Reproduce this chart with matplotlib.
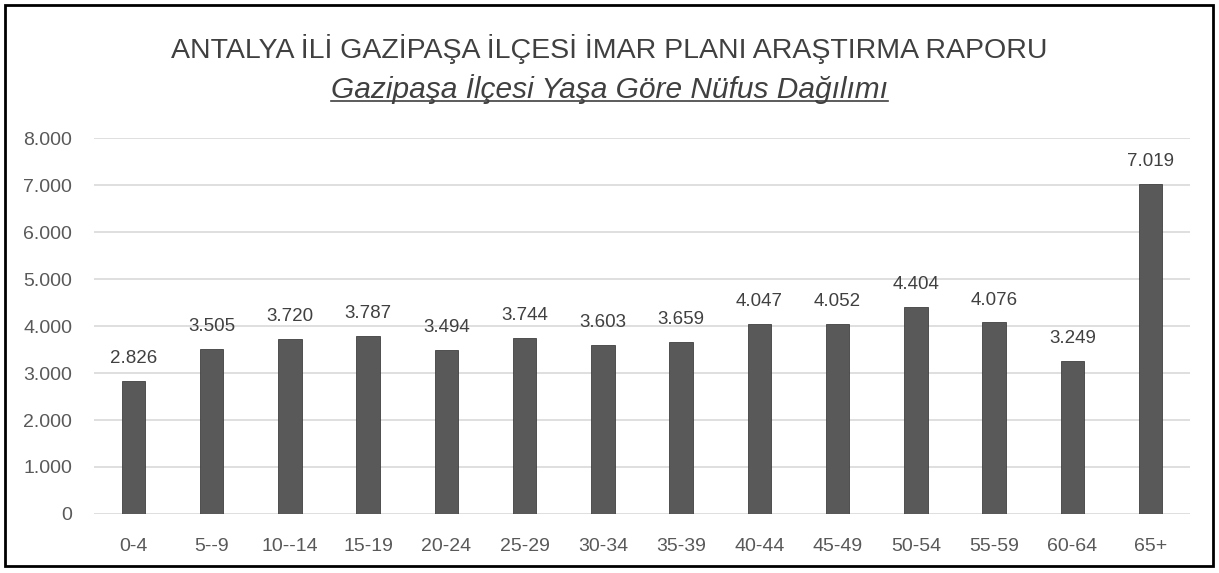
import matplotlib
matplotlib.use("Agg")
import matplotlib.pyplot as plt
from matplotlib.patches import Rectangle
from matplotlib.lines import Line2D
from matplotlib.ticker import FuncFormatter

# age groups and population
yas_gruplari = ["0-4", "5--9", "10--14", "15-19", "20-24", "25-29", "30-34",
                "35-39", "40-44", "45-49", "50-54", "55-59", "60-64", "65+"]
nufus = [2826, 3505, 3720, 3787, 3494, 3744, 3603, 3659, 4047, 4052, 4404, 4076, 3249, 7019]
y_ticks = [0, 1000, 2000, 3000, 4000, 5000, 6000, 7000, 8000]

def noktali(v, pos=None):
    return "{:,}".format(int(v)).replace(",", ".")

plt.rcParams['font.family'] = ['Liberation Sans', 'DejaVu Sans']

fig = plt.figure(figsize=(12.19, 5.73), dpi=100)
ax = fig.add_axes([0.0774, 0.103, 0.8986, 0.656])

x = list(range(len(yas_gruplari)))
ax.bar(x, nufus, width=0.3, color="#595959", edgecolor="#404040", linewidth=0.6, zorder=3)
for xi, v in zip(x, nufus):
    ax.annotate(noktali(v), (xi, v), xytext=(0, 10), textcoords="offset points",
                ha="center", va="bottom", fontsize=13.5, color="#404040")

ax.set_xlim(-0.5, len(yas_gruplari) - 0.5)
ax.set_ylim(0, 8000)
ax.set_yticks(y_ticks)
ax.yaxis.set_major_formatter(FuncFormatter(noktali))
ax.set_xticks(x)
ax.set_xticklabels(yas_gruplari)
ax.grid(axis="y", color="#d9d9d9", linewidth=1.2, zorder=0)
for s in ax.spines.values():
    s.set_visible(False)
ax.tick_params(length=0, labelsize=14, labelcolor="#595959")
ax.tick_params(axis="y", pad=16)
ax.tick_params(axis="x", pad=17)

fig.text(0.5, 0.915, "ANTALYA İLİ GAZİPAŞA İLÇESİ İMAR PLANI ARAŞTIRMA RAPORU",
         ha="center", va="center", fontsize=20.5, color="#404040")
alt = fig.text(0.5, 0.845, "Gazipaşa İlçesi Yaşa Göre Nüfus Dağılımı",
               ha="center", va="center", fontsize=21.5, color="#404040", style="italic")

# underline for subtitle
fig.canvas.draw()
bb = alt.get_window_extent().transformed(fig.transFigure.inverted())
fig.add_artist(Line2D([bb.x0, bb.x1], [bb.y0 + 0.004, bb.y0 + 0.004],
                      transform=fig.transFigure, color="#404040", linewidth=1.2))

# outer frame
fig.add_artist(Rectangle((0.004, 0.012), 0.991, 0.98, transform=fig.transFigure,
                         fill=False, edgecolor="black", linewidth=2))

fig.savefig("out.png", dpi=100)
